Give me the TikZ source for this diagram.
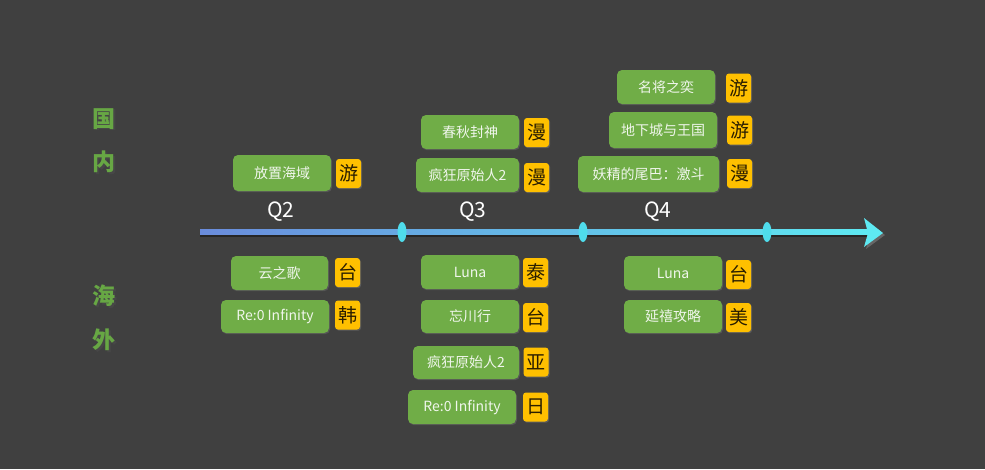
\documentclass[tikz,border=0pt]{standalone}
\usepackage{fontspec}
\newfontfamily\cjk{Noto Sans CJK SC}
\usetikzlibrary{shapes.geometric,shadows}
\definecolor{bg}{HTML}{404040}
\definecolor{gbox}{HTML}{70AD47}
\definecolor{gold}{HTML}{FFC000}
\definecolor{tagtxt}{HTML}{2A1E00}
\definecolor{boxtxt}{HTML}{F0F6EC}
\definecolor{lblgreen}{HTML}{67A744}
\definecolor{axblue}{HTML}{6A8CDC}
\definecolor{axcyan}{HTML}{5EE9F2}
\definecolor{tickc}{HTML}{4FDCEC}
\tikzset{
  gamebox/.style={fill=gbox, rounded corners=5pt, inner sep=0pt, text=boxtxt,
     font=\cjk\fontsize{14}{15}\selectfont,
     drop shadow={shadow xshift=1pt,shadow yshift=-1.2pt,opacity=0.35}},
  tagbox/.style={fill=gold, rounded corners=3pt, inner sep=0pt, text=tagtxt,
     minimum width=25pt, minimum height=29pt,
     font=\cjk\fontsize{19}{20}\selectfont,
     drop shadow={shadow xshift=1pt,shadow yshift=-1.2pt,opacity=0.45}},
  qlabel/.style={text=white, font=\cjk\fontsize{21}{22}\selectfont, inner sep=0pt},
  sidelabel/.style={text=lblgreen, font=\cjk\bfseries\fontsize{23}{24}\selectfont, inner sep=0pt},
  tickmark/.style={ellipse, fill=tickc, minimum width=9pt, minimum height=20pt, inner sep=0pt},
}
\begin{document}
\begin{tikzpicture}[x=1pt,y=-1pt]
\fill[bg] (0,0) rectangle (985,469);
\useasboundingbox (0,0) rectangle (985,469);

% side labels
\foreach \n/\t/\yy in {sg/国/119, sn/内/162, sh/海/296, sw/外/340}{
  \node[sidelabel, text=black!70, opacity=0.6] (\n s) at (105.5,\yy+1.5) {\t};
  \node[sidelabel] (\n) at (104,\yy) {\t};
}

% axis
\coordinate (axL) at (200,232);
\coordinate (axE) at (868,232);
\coordinate (axT) at (883,233);
\fill[black!85] (200,233) rectangle (868,237);
\shade[left color=axblue, right color=axcyan] (200,229.5) rectangle (868,234.5);
\fill[black!60] (885,235) -- (866,221) -- (870,235) -- (866,249) -- cycle;
\fill[axcyan] (axT) -- (864,218) -- (868,233) -- (864,247) -- cycle;
\node[tickmark] (t1) at (402,232) {};
\node[tickmark] (t2) at (583,232) {};
\node[tickmark] (t3) at (767,232) {};

\node[qlabel] (q2) at (281,212) {Q2};
\node[qlabel] (q3) at (473,212) {Q3};
\node[qlabel] (q4) at (658,212) {Q4};

% domestic
\node[gamebox, minimum width=98pt, minimum height=36pt] (b1) at (282,173) {放置海域};
\node[tagbox] (g1) at (348.5,173.5) {游};
\node[gamebox, minimum width=98pt, minimum height=34pt] (b2) at (470,132) {春秋封神};
\node[tagbox] (g2) at (536.5,132.5) {漫};
\node[gamebox, minimum width=103pt, minimum height=34pt] (b3) at (467.5,175) {疯狂原始人2};
\node[tagbox] (g3) at (536.5,177.5) {漫};
\node[gamebox, minimum width=98pt, minimum height=34pt] (b4) at (666,87) {名将之奕};
\node[tagbox] (g4) at (738.5,88) {游};
\node[gamebox, minimum width=108pt, minimum height=36pt] (b5) at (663,130) {地下城与王国};
\node[tagbox] (g5) at (739.5,130) {游};
\node[gamebox, minimum width=141pt, minimum height=36pt] (b6) at (648.5,174) {妖精的尾巴：激斗};
\node[tagbox] (g6) at (739.5,173.5) {漫};

% overseas
\node[gamebox, minimum width=97pt, minimum height=34pt] (b7) at (279.5,273) {云之歌};
\node[tagbox] (g7) at (347.5,272.5) {台};
\node[gamebox, minimum width=108pt, minimum height=33pt] (b8) at (275,316.5) {Re:0 Infinity};
\node[tagbox] (g8) at (347.5,315) {韩};
\node[gamebox, minimum width=98pt, minimum height=34pt] (b9) at (470,272) {Luna};
\node[tagbox] (g9) at (535.5,272.5) {泰};
\node[gamebox, minimum width=98pt, minimum height=33pt] (b10) at (470,316.5) {忘川行};
\node[tagbox] (g10) at (535.5,317.5) {台};
\node[gamebox, minimum width=106pt, minimum height=33pt] (b11) at (466,362.5) {疯狂原始人2};
\node[tagbox] (g11) at (536,362) {亚};
\node[gamebox, minimum width=108pt, minimum height=34pt] (b12) at (462,407) {Re:0 Infinity};
\node[tagbox] (g12) at (535.5,407) {日};
\node[gamebox, minimum width=98pt, minimum height=34pt] (b13) at (673,273) {Luna};
\node[tagbox] (g13) at (738.5,274.5) {台};
\node[gamebox, minimum width=98pt, minimum height=33pt] (b14) at (673,316.5) {延禧攻略};
\node[tagbox] (g14) at (738.5,317.5) {美};
\end{tikzpicture}
\end{document}
